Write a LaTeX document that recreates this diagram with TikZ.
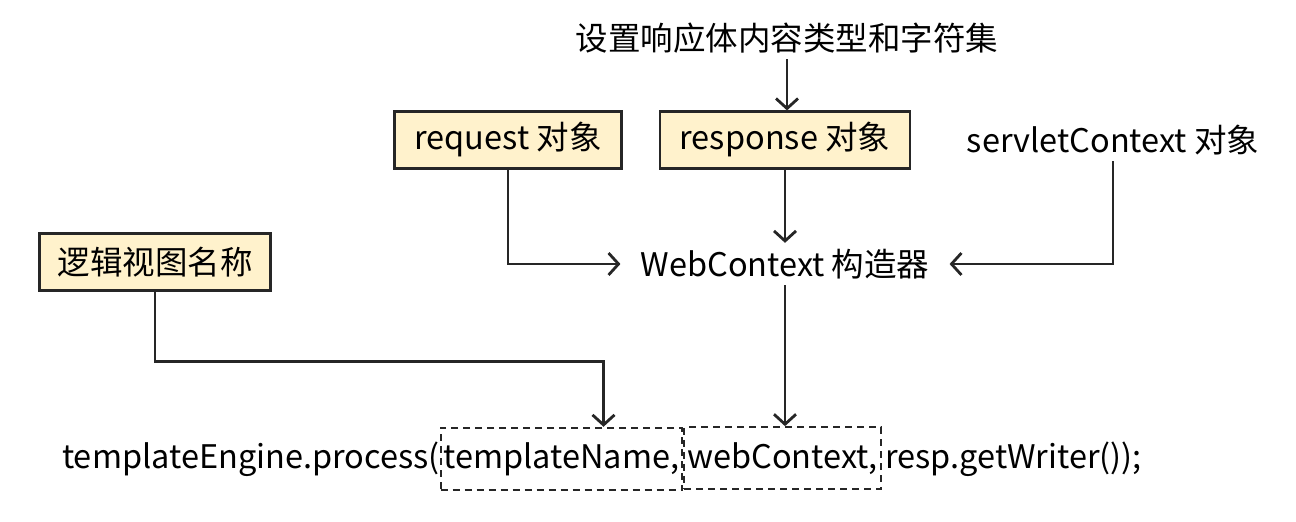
\documentclass[tikz,border=0pt]{standalone}
\usepackage{fontspec}
\setmainfont{Noto Sans CJK SC}
\usetikzlibrary{arrows.meta,positioning}

\definecolor{boxfill}{HTML}{FFF2CC}
\definecolor{linegray}{HTML}{262626}

\tikzset{
  objbox/.style={draw=linegray,fill=boxfill,line width=2.2pt,minimum height=57pt,inner xsep=12pt},
  plain/.style={inner xsep=4pt,inner ysep=6pt},
  argbox/.style={draw=linegray,line width=2pt,dash pattern=on 7pt off 5pt,minimum height=62pt,inner xsep=3pt},
  flow/.style={draw=linegray,line width=2.8pt,-{Straight Barb[length=10pt,width=22pt,line width=2.8pt]}},
}

\begin{document}
\begin{tikzpicture}[x=1pt,y=-1pt,font=\fontsize{32.5}{38}\selectfont]
\useasboundingbox (0,0) rectangle (1296,522);

% objects feeding the context
\node[plain] (charset) at (787,38) {设置响应体内容类型和字符集};
\node[objbox,minimum width=250pt] (respbox) at (785,140) {response 对象};
\node[objbox,minimum width=227pt] (reqbox) at (508,140) {request 对象};
\node[plain] (servletctx) at (1113,140) {servletContext 对象};
\node[plain,inner xsep=20pt] (webctx) at (785,264) {WebContext 构造器};
\node[objbox,minimum width=231pt] (viewname) at (155,262) {逻辑视图名称};

% the call
\node[inner sep=0pt,anchor=base west] (callpre) at (62,468) {templateEngine.process(};
\node[argbox,anchor=base west] (tname) at (callpre.base east) {templateName,};
\node[argbox,anchor=base west] (wctx) at (tname.base east) {webContext,};
\node[inner sep=0pt,anchor=base west] (writer) at ([xshift=3pt]wctx.base east) {resp.getWriter());};

% connectors
\draw[flow] (charset) -- (charset |- respbox.north);
\draw[flow] (respbox) -- (respbox |- webctx.north);
\draw[flow] (reqbox) |- (webctx);
\draw[flow] (servletctx) |- (webctx);
\draw[flow] (viewname.south) -- ++(0,70) -| ([xshift=42pt]tname.north);
\draw[flow] (webctx) -- (webctx |- wctx.north);
\end{tikzpicture}
\end{document}
